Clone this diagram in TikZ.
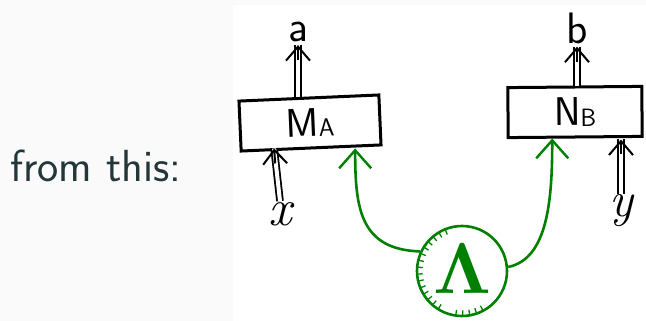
\documentclass[tikz,border=0pt]{standalone}
\usetikzlibrary{arrows.meta,calc}
\definecolor{bgc}{HTML}{FAFAFA}
\definecolor{txt}{HTML}{23373B}
\definecolor{gr}{HTML}{008000}
\begin{document}
\begin{tikzpicture}[x=1pt,y=-1pt,
  box/.style={draw=black,line width=3pt,minimum width=140pt,minimum height=50pt,inner sep=0pt,font=\sffamily\fontsize{40}{42}\selectfont},
  lbl/.style={inner sep=1pt,font=\sffamily\fontsize{44}{46}\selectfont},
  dbl/.style={draw=black,double=white,double distance=4pt,line width=1.8pt},
  barbhead/.style={draw=black,line width=2pt,-{Straight Barb[length=14pt,width=24pt,line width=2pt]}},
  garrow/.style={draw=gr,line width=2.6pt,-{Straight Barb[length=18pt,width=32pt,line width=2.4pt]}}]
\useasboundingbox (0,0) rectangle (646,321);
\fill[bgc] (0,0) rectangle (646,321);
\fill[white] (233,5) rectangle (646,321);
\node[anchor=base west,text=txt,inner sep=0pt,font=\sffamily\fontsize{45}{50}\selectfont] (from) at (10,182) {from this:};
\node[box,rotate=2.5] (MA) at (310,123) {M\raisebox{-1pt}{\fontsize{25}{27}\selectfont A}};
\node[box,minimum width=134pt,rotate=0.5] (NB) at (575,112) {N\raisebox{-1pt}{\fontsize{25}{27}\selectfont B}};
\node[lbl] (a) at (298,32) {a};
\node[lbl] (b) at (577,28) {b};
\node[lbl,font=\itshape\fontsize{52}{54}\selectfont] (x) at (280,214) {x};
\node[lbl,font=\itshape\fontsize{50}{52}\selectfont] (y) at (621,211) {y};
\node[circle,draw=gr,line width=2.6pt,minimum size=90pt,inner sep=0pt,text=gr] (L) at (462,271) {\raisebox{4pt}{\scalebox{7.2}{$\mathbf{\Lambda}$}}};
\foreach \ang in {112,121,...,240,262,271,...,300} {
  \draw[gr,line width=1.3pt] ($(L.center)!0.85!(L.\ang)$) -- ($(L.center)!0.97!(L.\ang)$);
}
% a
\coordinate (aend) at ($(a.south)+(0,2)$);
\draw[dbl] (MA.north -| aend) -- (aend);
\draw[barbhead] ($(aend)+(0,15)$) -- (aend);
% b
\coordinate (bend) at ($(b.south)+(0,2)$);
\draw[dbl] (NB.north -| bend) -- (bend);
\draw[barbhead] ($(bend)+(0,15)$) -- (bend);
% x
\coordinate (xend) at ([xshift=-37pt,yshift=1pt]MA.south);
\draw[dbl] (x.north) -- (xend);
\draw[barbhead] ($(xend)+(1,15)$) -- (xend);
% y
\coordinate (yend) at ($(y.north |- NB.south)+(0,1)$);
\draw[dbl] (y.north) -- (yend);
\draw[barbhead] ($(yend)+(0,15)$) -- (yend);
\draw[garrow] (L.155) .. controls +(-60,-2) and +(0,60) .. ([xshift=44pt,yshift=1pt]MA.south);
\draw[garrow] (L.5) .. controls +(40,-8) and +(0,60) .. ([xshift=-23pt]NB.south);
\end{tikzpicture}
\end{document}
